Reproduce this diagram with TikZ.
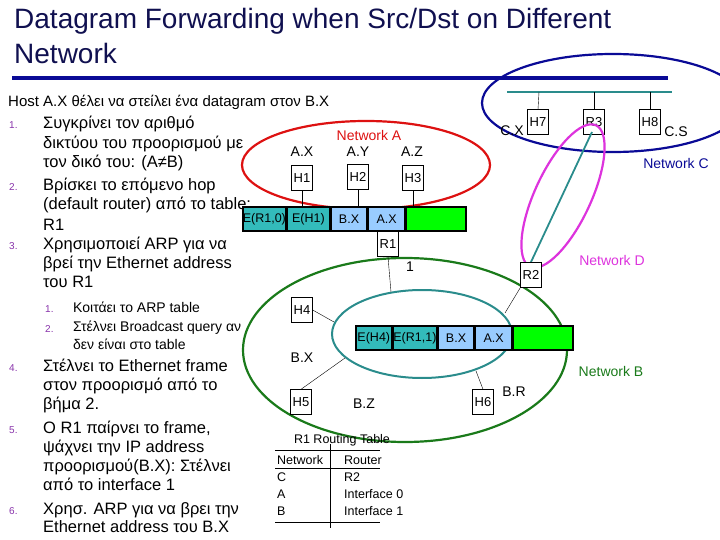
\documentclass[tikz,border=0pt]{standalone}
\usepackage{fontspec}
\setmainfont{Liberation Sans}
\begin{document}
\begin{tikzpicture}[x=1pt,y=-1pt,
  txt/.style={anchor=west,inner sep=0pt,text height=12pt,text depth=4pt,font=\fontsize{16.5}{18}\selectfont},
  num/.style={anchor=west,inner sep=0pt,text height=7pt,text depth=1pt,text=numc,font=\fontsize{10}{12}\selectfont},
  sub/.style={anchor=west,inner sep=0pt,text height=10pt,text depth=3pt,font=\fontsize{14}{16}\selectfont},
  hbox/.style={draw,fill=white,minimum width=21pt,minimum height=25pt,inner sep=0pt,font=\fontsize{13}{14}\selectfont},
  lbl/.style={inner sep=0pt,text height=10pt,text depth=3pt,font=\fontsize{14}{15}\selectfont},
  cell/.style={draw,line width=1.6pt,minimum height=24pt,inner sep=0pt,anchor=west,font=\fontsize{12.5}{13}\selectfont},
  tb/.style={inner sep=0pt,anchor=west,text height=9pt,text depth=3pt,font=\fontsize{12.5}{13}\selectfont}]
\definecolor{numc}{HTML}{8833AA}
\definecolor{navy}{HTML}{0A0A96}
\definecolor{titlec}{HTML}{101050}
\definecolor{teal}{HTML}{2A8C8C}
\definecolor{cyanc}{HTML}{33BBBB}
\definecolor{lblue}{HTML}{99CCFF}
\definecolor{dgreen}{HTML}{1A7A1A}
\definecolor{magc}{HTML}{DD33DD}
\definecolor{redc}{HTML}{DD1111}
\useasboundingbox (0,0) rectangle (720,540);
\begin{scope}
\clip (0,0) rectangle (720,540);
% title
\node[anchor=base west,inner sep=0pt,text=titlec,font=\fontsize{28}{30}\selectfont] (t1) at (14,29) {Datagram Forwarding when Src/Dst on Different};
\node[anchor=base west,inner sep=0pt,text=titlec,font=\fontsize{28}{30}\selectfont] (t2) at (14,64) {Network};
\draw[navy,line width=4pt] (12,78) -- (668,78);
% text
\node[anchor=west,inner sep=0pt,text height=11pt,text depth=4pt,font=\fontsize{15}{17}\selectfont] (h) at (8,103) {Host A.X θέλει να στείλει ένα datagram στον B.X};
\node[num] (n1) at (9,126) {1.};
\node[txt] at (43,125) {Συγκρίνει τον αριθμό};
\node[txt] at (43,145) {δικτύου του προορισμού με};
\node[txt] at (43,164) {τον δικό του: (A≠B)};
\node[num] (n2) at (9,188) {2.};
\node[txt] at (43,187) {Βρίσκει το επόμενο hop};
\node[txt] at (43,206) {(default router) από το table:};
\node[txt] at (43,226) {R1};
\node[num] (n3) at (9,246) {3.};
\node[txt] at (43,245) {Χρησιμοποιεί ARP για να};
\node[txt] at (43,264) {βρεί την Ethernet address};
\node[txt] at (43,283) {του R1};
\node[num] at (45,309) {1.};
\node[sub] at (73,309) {Κοιτάει το ARP table};
\node[num] at (45,329) {2.};
\node[sub] at (73,328) {Στέλνει Broadcast query αν};
\node[sub] at (73,346) {δεν είναι στο table};
\node[num] (n4) at (9,368) {4.};
\node[txt] at (43,367) {Στέλνει το Ethernet frame};
\node[txt] at (43,386) {στον προορισμό από το};
\node[txt] at (43,405) {βήμα 2.};
\node[num] (n5) at (9,430) {5.};
\node[txt] at (43,429) {O R1 παίρνει το frame,};
\node[txt] at (43,448) {ψάχνει την IP address};
\node[txt] at (43,467) {προορισμού(B.X): Στέλνει};
\node[txt] at (43,486) {από το interface 1};
\node[num] (n6) at (9,511) {6.};
\node[txt] at (43,510) {Χρησ. ARP για να βρει την};
\node[txt] at (43,528) {Ethernet address του B.X};
% Network C
\draw[navy,line width=2.2pt] (613,103) ellipse [x radius=131,y radius=49];
\draw[teal,line width=1.5pt] (507,92) coordinate (bl) -- (672,92) coordinate (br);
\node[hbox] (h7) at (538,122) {H7};
\node[hbox] (r3) at (594,122) {R3};
\node[hbox] (h8) at (650,122) {H8};
\draw (539,92) -- (h7.north);
\draw (594,92) -- (r3.north);
\draw (650,92) -- (h8.north);
\node[lbl] (cx) at (512,132) {C.X};
\node[lbl] (cs) at (676,133) {C.S};
\node[lbl,text=navy] (nc) at (676,165) {Network C};
% Network A
\draw[redc,line width=2.2pt] (366,165) ellipse [x radius=124,y radius=44];
\node[lbl,text=redc] (na) at (369,137) {Network A};
\node[lbl] at (302,153) {A.X};
\node[lbl] at (358,153) {A.Y};
\node[lbl] at (412,153) {A.Z};
\node[hbox] (h1) at (302,178) {H1};
\node[hbox] (h2) at (358,177) {H2};
\node[hbox] (h3) at (413,178) {H3};
% Network B
\draw[dgreen,line width=2.2pt] (405,350) ellipse [x radius=162,y radius=92];
\draw[teal,line width=2pt] (422,334) ellipse [x radius=90,y radius=44];
\node[lbl,text=dgreen] (nb) at (611,373) {Network B};
% Network D
\draw[teal,line width=1.8pt] (592,132) -- (531,262);
\draw[magc,line width=2.2pt,rotate around={65:(563,196)}] (563,196) ellipse [x radius=78,y radius=28];
\node[lbl,text=magc] (nd) at (612,262) {Network D};
\node[hbox] (r2) at (531,275) {R2};
\node[hbox] (r1) at (388,244) {R1};
\node[lbl] at (410,268) {1};
% frame 1
\draw (h1.south) -- (302,207);
\draw (h2.south) -- (358,207);
\draw (h3.south) -- (413,207);
\draw (388,257) -- (391,292);
\node[cell,fill=cyanc,minimum width=36pt] (f1) at (242,219) {E(R1,0)};
\node[cell,fill=cyanc,minimum width=42pt] (f2) at (f1.east) {E(H1)};
\node[cell,fill=lblue,minimum width=36pt] (f3) at (f2.east) {B.X};
\node[cell,fill=lblue,minimum width=36pt] (f4) at (f3.east) {A.X};
\node[cell,fill=green,minimum width=60pt] (f5) at (f4.east) {};
% Network B hosts
\node[hbox] (h4) at (302,310) {H4};
\node[hbox] (h5) at (301,402) {H5};
\node[hbox] (h6) at (483,402) {H6};
\draw (h4.east) -- (334,322);
\draw (345,358) -- (h5.north);
\draw (476,371) -- (h6.north);
\draw (r2.south west) -- (505,313);
\node[lbl] at (302,359) {B.X};
\node[lbl] at (364,405) {B.Z};
\node[lbl] at (514,393) {B.R};
\node[cell,fill=cyanc,minimum width=36pt] (g1) at (355,338) {E(H4)};
\node[cell,fill=cyanc,minimum width=42pt] (g2) at (g1.east) {E(R1,1)};
\node[cell,fill=lblue,minimum width=36pt] (g3) at (g2.east) {B.X};
\node[cell,fill=lblue,minimum width=36pt] (g4) at (g3.east) {A.X};
\node[cell,fill=green,minimum width=60pt] (g5) at (g4.east) {};
% routing table
\node[inner sep=0pt,text height=9pt,text depth=3pt,font=\fontsize{12.5}{13}\selectfont] (rt) at (342,440) {R1 Routing Table};
\draw (275,450) -- (380,450);
\draw (275,468) -- (380,468);
\draw (275,522) -- (380,522);
\draw (330,444) -- (330,528);
\node[tb] at (277,461) {Network};
\node[tb] at (344,461) {Router};
\node[tb] at (277,478) {C};
\node[tb] at (344,478) {R2};
\node[tb] at (277,495) {A};
\node[tb] at (344,495) {Interface 0};
\node[tb] at (277,512) {B};
\node[tb] at (344,512) {Interface 1};
\end{scope}
\end{tikzpicture}
\end{document}
